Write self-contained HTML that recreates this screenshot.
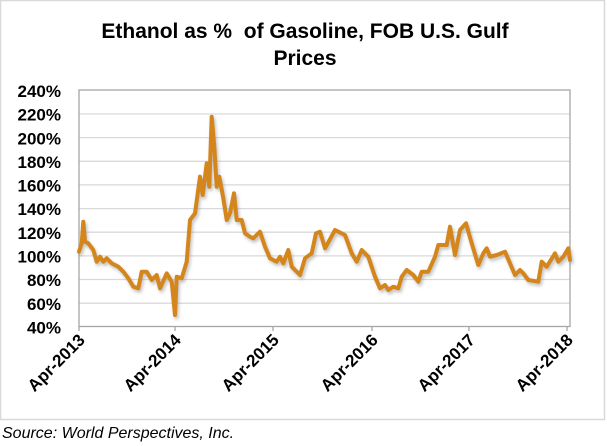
<!DOCTYPE html>
<html><head><meta charset="utf-8"><style>
html,body{margin:0;padding:0;background:#fff;}
svg{display:block;font-family:"Liberation Sans",Arial,sans-serif;}
</style></head><body>
<svg width="607" height="446" viewBox="0 0 607 446">
<rect x="0.5" y="0.5" width="604" height="419" fill="#fff" stroke="#d9d9d9" stroke-width="1.5"/>
<text x="305" y="38" text-anchor="middle" font-size="21" font-weight="bold" xml:space="preserve">Ethanol as %  of Gasoline, FOB U.S. Gulf</text>
<text x="305" y="65" text-anchor="middle" font-size="21" font-weight="bold">Prices</text>
<g stroke="#d9d9d9" stroke-width="1.3">
<line x1="79" y1="114" x2="570" y2="114"/><line x1="79" y1="137.6" x2="570" y2="137.6"/>
<line x1="79" y1="161.3" x2="570" y2="161.3"/><line x1="79" y1="184.9" x2="570" y2="184.9"/>
<line x1="79" y1="208.6" x2="570" y2="208.6"/><line x1="79" y1="232.2" x2="570" y2="232.2"/>
<line x1="79" y1="255.9" x2="570" y2="255.9"/><line x1="79" y1="279.5" x2="570" y2="279.5"/>
<line x1="79" y1="303.2" x2="570" y2="303.2"/>
</g>
<rect x="79" y="90" width="491" height="236.5" fill="none" stroke="#a6a6a6" stroke-width="1.3"/>
<g stroke="#a6a6a6" stroke-width="1.3">
<line x1="79" y1="326.5" x2="79" y2="331"/><line x1="175" y1="326.5" x2="175" y2="331"/>
<line x1="273" y1="326.5" x2="273" y2="331"/><line x1="372" y1="326.5" x2="372" y2="331"/>
<line x1="469" y1="326.5" x2="469" y2="331"/><line x1="567" y1="326.5" x2="567" y2="331"/>
</g>
<g font-size="17" font-weight="bold" text-anchor="end">
<text x="61" y="97">240%</text><text x="61" y="120.6">220%</text><text x="61" y="144.3">200%</text>
<text x="61" y="167.9">180%</text><text x="61" y="191.6">160%</text><text x="61" y="215.2">140%</text>
<text x="61" y="238.9">120%</text><text x="61" y="262.5">100%</text><text x="61" y="286.2">80%</text>
<text x="61" y="309.8">60%</text><text x="61" y="333.5">40%</text>
</g>
<g font-size="17" font-weight="bold" text-anchor="end">
<text transform="translate(86,341) rotate(-45)">Apr-2013</text>
<text transform="translate(182,341) rotate(-45)">Apr-2014</text>
<text transform="translate(280,341) rotate(-45)">Apr-2015</text>
<text transform="translate(379,341) rotate(-45)">Apr-2016</text>
<text transform="translate(476,341) rotate(-45)">Apr-2017</text>
<text transform="translate(574,341) rotate(-45)">Apr-2018</text>
</g>
<defs><filter id="sh" x="-5%" y="-5%" width="110%" height="115%"><feGaussianBlur stdDeviation="1.5"/></filter></defs>
<g fill="none" stroke-linejoin="round" stroke-linecap="round">
<path transform="translate(1.5,2.5)" filter="url(#sh)" stroke="#999" stroke-opacity="0.6" stroke-width="4" d="M79,251.7 L81.7,243.3 L83.3,221.7 L85,241.7 L88.3,243.3 L93.3,250 L96.7,261.7 L100,256.7 L103.3,261.7 L106.7,258.3 L111.7,263.3 L118.3,266.7 L123.3,271.7 L128.3,278.3 L133.3,286.7 L138.3,288.3 L141.7,271.7 L146.7,271.7 L151.7,280 L156.7,275 L160,288.3 L166.7,273.3 L171.7,281.7 L175,315 L176.7,276.7 L181.7,278.3 L186.7,261.7 L190,220 L195,213.3 L200,176.7 L202.7,195 L206.7,163.3 L209.3,186.7 L211.7,116.7 L214.3,146.7 L216.7,186.7 L219.3,176.7 L223.3,198.3 L226.7,220 L230,213.3 L234,193.3 L236.7,220 L241.7,220 L245,233.3 L250,236.7 L253.3,238.3 L260,231.7 L265,246.7 L270,258.3 L276.7,261.7 L280,256.7 L283.3,263.3 L288.3,250 L291.7,266.7 L300,275 L305,258.3 L311.7,253.3 L316,233.3 L320,231.7 L325,248.3 L335,230 L345,235 L351.7,253.3 L356.7,261.7 L361.7,250 L368.3,256.7 L375,276.7 L380,288.3 L385,285 L388.3,290 L393.3,286.7 L398.3,288.3 L401.7,276.7 L406.7,270 L413.3,275 L418.3,281.7 L421.7,271.7 L428.3,271.7 L435,256.7 L438.3,245 L446.7,245 L450,226.7 L455,255 L460,230 L466,223.3 L471.7,243.3 L478.3,265 L483.3,253.3 L486.7,248.3 L490,256.7 L496.7,255 L505,251.7 L515,275 L520,270 L523.3,273.3 L528.3,280 L538.3,281.7 L541.7,261.7 L546.7,266.7 L555,253.3 L558.3,261.7 L563.3,256.7 L568.3,248.3 L570,260"/>
<path stroke="#d4861c" stroke-width="4" d="M79,251.7 L81.7,243.3 L83.3,221.7 L85,241.7 L88.3,243.3 L93.3,250 L96.7,261.7 L100,256.7 L103.3,261.7 L106.7,258.3 L111.7,263.3 L118.3,266.7 L123.3,271.7 L128.3,278.3 L133.3,286.7 L138.3,288.3 L141.7,271.7 L146.7,271.7 L151.7,280 L156.7,275 L160,288.3 L166.7,273.3 L171.7,281.7 L175,315 L176.7,276.7 L181.7,278.3 L186.7,261.7 L190,220 L195,213.3 L200,176.7 L202.7,195 L206.7,163.3 L209.3,186.7 L211.7,116.7 L214.3,146.7 L216.7,186.7 L219.3,176.7 L223.3,198.3 L226.7,220 L230,213.3 L234,193.3 L236.7,220 L241.7,220 L245,233.3 L250,236.7 L253.3,238.3 L260,231.7 L265,246.7 L270,258.3 L276.7,261.7 L280,256.7 L283.3,263.3 L288.3,250 L291.7,266.7 L300,275 L305,258.3 L311.7,253.3 L316,233.3 L320,231.7 L325,248.3 L335,230 L345,235 L351.7,253.3 L356.7,261.7 L361.7,250 L368.3,256.7 L375,276.7 L380,288.3 L385,285 L388.3,290 L393.3,286.7 L398.3,288.3 L401.7,276.7 L406.7,270 L413.3,275 L418.3,281.7 L421.7,271.7 L428.3,271.7 L435,256.7 L438.3,245 L446.7,245 L450,226.7 L455,255 L460,230 L466,223.3 L471.7,243.3 L478.3,265 L483.3,253.3 L486.7,248.3 L490,256.7 L496.7,255 L505,251.7 L515,275 L520,270 L523.3,273.3 L528.3,280 L538.3,281.7 L541.7,261.7 L546.7,266.7 L555,253.3 L558.3,261.7 L563.3,256.7 L568.3,248.3 L570,260"/>
</g>
<text x="2" y="438" font-size="16" font-style="italic">Source: World Perspectives, Inc.</text>
</svg>
</body></html>
